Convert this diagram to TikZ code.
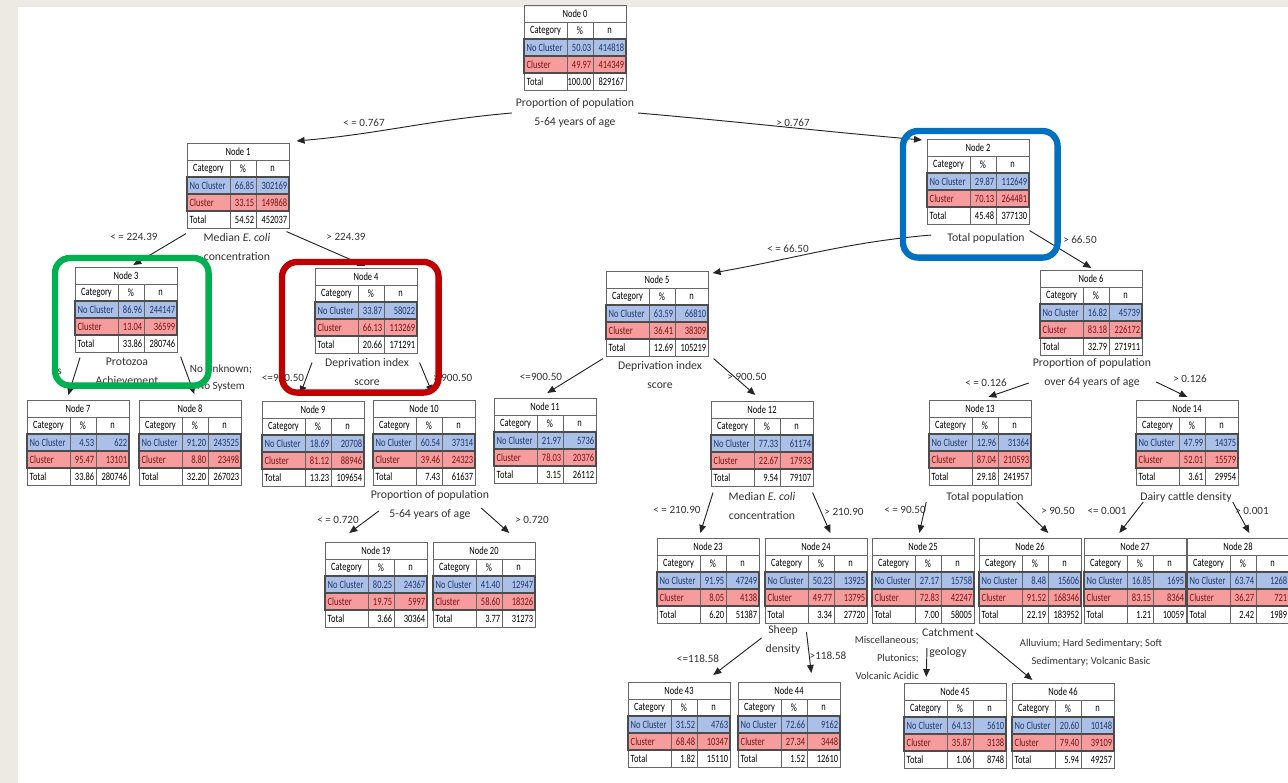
\documentclass[tikz,border=0pt]{standalone}
\usepackage{fontspec}
\setmainfont{Carlito}
\newfontfamily\cellfont[FakeStretch=0.76]{Carlito}
\usepackage{tikz}
\usetikzlibrary{arrows.meta,calc}
\definecolor{pagebg}{RGB}{237,234,228}
\definecolor{ncblue}{RGB}{170,192,230}
\definecolor{cred}{RGB}{246,156,156}
\definecolor{ncink}{RGB}{31,56,110}
\definecolor{cink}{RGB}{120,20,20}
\definecolor{frgreen}{RGB}{0,176,80}
\definecolor{frred}{RGB}{192,0,0}
\definecolor{frblue}{RGB}{0,112,192}
\tikzset{
  tabbox/.style={draw=gray!80!black, line width=0.5pt, minimum width=30.6mm, minimum height=25.5mm, inner sep=0pt},
  tabline/.style={draw=gray!80!black, line width=0.4pt},
  rowline/.style={draw=black!70, line width=0.9pt},
  celltxt/.style={inner sep=0pt, font=\cellfont\fontsize{9.5}{10}\selectfont},
  splitlab/.style={align=center, text=black!80, font=\fontsize{10}{16.2}\selectfont},
  elab/.style={text=black!80, inner sep=0pt, font=\fontsize{9.5}{14.5}\selectfont},
  splitarrow/.style={draw=black!85, line width=0.8pt, -{Triangle[length=2.4mm,width=2mm]}},
  hiframe/.style={line width=1.9mm, rounded corners=4.5mm},
}
% one table of the tree: left, top, node number, then the five values
\newcommand{\tabnode}[9]{%
  \begin{scope}[shift={(#1,#2)}]
    \fill[ncblue] (0,34) rectangle (102,51);
    \fill[cred] (0,51) rectangle (102,68);
    \node[tabbox, anchor=north west] (t#3) at (0,0) {};
    \draw[tabline] (0,17) -- (102,17) (0,34) -- (102,34) (0,68) -- (102,68);
    \draw[tabline] (43,17) -- (43,85) (69,17) -- (69,85);
    \draw[rowline] (0,34) rectangle (102,51) (0,51) rectangle (102,68);
    \node[celltxt] at (51,8.5) {Node #3};
    \node[celltxt] at (21.5,25.5) {Category};
    \node[celltxt] at (56,25.5) {\%};
    \node[celltxt] at (85.5,25.5) {n};
    \node[celltxt, anchor=west, text=ncink] at (2.5,42.5) {No Cluster};
    \node[celltxt, anchor=east, text=ncink] at (67.5,42.5) {#4};
    \node[celltxt, anchor=east, text=ncink] at (100.5,42.5) {#5};
    \node[celltxt, anchor=west, text=cink] at (2.5,59.5) {Cluster};
    \node[celltxt, anchor=east, text=cink] at (67.5,59.5) {#6};
    \node[celltxt, anchor=east, text=cink] at (100.5,59.5) {#7};
    \node[celltxt, anchor=west] at (2.5,76.5) {Total};
    \node[celltxt, anchor=east] at (67.5,76.5) {#8};
    \node[celltxt, anchor=east] at (100.5,76.5) {#9};
  \end{scope}%
}

\begin{document}
\begin{tikzpicture}[x=0.3mm,y=-0.3mm]
    \useasboundingbox (0,0) rectangle (1288,783);
    \fill[pagebg] (0,0) rectangle (1288,783);
    \fill[white] (18,7) rectangle (1288,783);

    % tables
    \tabnode{524}{5}{0}{50.03}{414818}{49.97}{414349}{100.00}{829167}
    \tabnode{187}{143}{1}{66.85}{302169}{33.15}{149868}{54.52}{452037}
    \tabnode{927}{139}{2}{29.87}{112649}{70.13}{264481}{45.48}{377130}
    \tabnode{75}{267}{3}{86.96}{244147}{13.04}{36599}{33.86}{280746}
    \tabnode{315}{268}{4}{33.87}{58022}{66.13}{113269}{20.66}{171291}
    \tabnode{606}{271}{5}{63.59}{66810}{36.41}{38309}{12.69}{105219}
    \tabnode{1040}{270}{6}{16.82}{45739}{83.18}{226172}{32.79}{271911}
    \tabnode{27}{400}{7}{4.53}{622}{95.47}{13101}{33.86}{280746}
    \tabnode{139}{400}{8}{91.20}{243525}{8.80}{23498}{32.20}{267023}
    \tabnode{262}{401}{9}{18.69}{20708}{81.12}{88946}{13.23}{109654}
    \tabnode{373}{400}{10}{60.54}{37314}{39.46}{24323}{7.43}{61637}
    \tabnode{494}{398}{11}{21.97}{5736}{78.03}{20376}{3.15}{26112}
    \tabnode{711}{401}{12}{77.33}{61174}{22.67}{17933}{9.54}{79107}
    \tabnode{929}{400}{13}{12.96}{31364}{87.04}{210593}{29.18}{241957}
    \tabnode{1136}{400}{14}{47.99}{14375}{52.01}{15579}{3.61}{29954}
    \tabnode{325}{542}{19}{80.25}{24367}{19.75}{5997}{3.66}{30364}
    \tabnode{433}{542}{20}{41.40}{12947}{58.60}{18326}{3.77}{31273}
    \tabnode{657}{538}{23}{91.95}{47249}{8.05}{4138}{6.20}{51387}
    \tabnode{765}{538}{24}{50.23}{13925}{49.77}{13795}{3.34}{27720}
    \tabnode{872}{538}{25}{27.17}{15758}{72.83}{42247}{7.00}{58005}
    \tabnode{979}{538}{26}{8.48}{15606}{91.52}{168346}{22.19}{183952}
    \tabnode{1084}{538}{27}{16.85}{1695}{83.15}{8364}{1.21}{10059}
    \tabnode{1187}{538}{28}{63.74}{1268}{36.27}{721}{2.42}{1989}
    \tabnode{628}{682}{43}{31.52}{4763}{68.48}{10347}{1.82}{15110}
    \tabnode{738}{682}{44}{72.66}{9162}{27.34}{3448}{1.52}{12610}
    \tabnode{904}{683}{45}{64.13}{5610}{35.87}{3138}{1.06}{8748}
    \tabnode{1012}{683}{46}{20.60}{10148}{79.40}{39109}{5.94}{49257}

    % split variables
    \node[splitlab] (l0) at (575,113) {Proportion of population\\5-64 years of age};
    \node[splitlab] (l1) at (237,247) {Median \textit{E. coli}\\concentration};
    \node[splitlab] (l2) at (986,238) {Total population};
    \node[splitlab] (l3) at (127,371) {Protozoa\\Achievement};
    \node[splitlab] (l4) at (367,372) {Deprivation index\\score};
    \node[splitlab] (l5) at (660,375) {Deprivation index\\score};
    \node[splitlab] (l6) at (1092,373) {Proportion of population\\over 64 years of age};
    \node[splitlab] (l10) at (430,505) {Proportion of population\\5-64 years of age};
    \node[splitlab] (l12) at (762,506) {Median \textit{E. coli}\\concentration};
    \node[splitlab] (l13) at (985,497) {Total population};
    \node[splitlab] (l14) at (1186,497) {Dairy cattle density};
    \node[splitlab] (l24) at (783,640) {Sheep\\density};
    \node[splitlab] (l25) at (948,643) {Catchment\\geology};

    % branch conditions
    \node[elab] at (364,123) {< = 0.767};
    \node[elab] at (793,123) {> 0.767};
    \node[elab] at (134,237) {< = 224.39};
    \node[elab] at (346,237) {> 224.39};
    \node[elab] at (788,249) {< = 66.50};
    \node[elab] at (1080,240) {> 66.50};
    \node[elab, anchor=east] at (62,372) {rs};
    \node[elab, align=center] at (221,378) {No Unknown;\\No System};
    \node[elab] at (283,378) {<=900.50};
    \node[elab, anchor=west] at (433,378) {> 900.50};
    \node[elab] at (541,377) {<=900.50};
    \node[elab] at (747,377) {> 900.50};
    \node[elab] at (986,383) {< = 0.126};
    \node[elab] at (1190,379) {> 0.126};
    \node[elab] at (338,520) {< = 0.720};
    \node[elab] at (532,520) {> 0.720};
    \node[elab] at (677,510) {< = 210.90};
    \node[elab] at (844,512) {> 210.90};
    \node[elab] at (905,510) {< = 90.50};
    \node[elab] at (1058,511) {> 90.50};
    \node[elab] at (1107,511) {<= 0.001};
    \node[elab] at (1252,511) {> 0.001};
    \node[elab] at (698,659) {<=118.58};
    \node[elab] at (828,656) {>118.58};
    \node[elab, anchor=east, align=right, font=\fontsize{9}{15.3}\selectfont] at (919,658) {Miscellaneous;\\Plutonics;\\Volcanic Acidic};
    \node[elab, align=center, font=\fontsize{9}{15.3}\selectfont] at (1091,653) {Alluvium; Hard Sedimentary; Soft\\Sedimentary; Volcanic Basic};

    % branches
    \draw[splitarrow] (l0.west) to[out=185,in=5] ($(t1.north east)+(7,-2)$);
    \draw[splitarrow] (l0.east) to[out=-5,in=175] ($(t2.north west)+(-5,1)$);
    \draw[splitarrow] ($(t1.south west)+(-1,5)$) -- ($(t3.north)+(7,-2)$);
    \draw[splitarrow] ($(t1.south east)+(-3,3)$) -- ($(t4.north)+(-1,-2)$);
    \draw[splitarrow] ($(l2.west)+(-12,-3)$) to[out=185,in=10] ($(t5.north east)+(4,2)$);
    \draw[splitarrow] ($(t2.south east)+(0,6)$) -- ($(t6.north)+(0,-2)$);
    \draw[splitarrow] ($(t3.south west)+(5,5)$) -- ($(t7.north)+(-10,-5)$);
    \draw[splitarrow] ($(t3.south east)+(3,4)$) -- ($(t8.north)+(4,-6)$);
    \draw[splitarrow] ($(t4.south west)+(-3,9)$) -- ($(t9.north)+(-13,-7)$);
    \draw[splitarrow] ($(t4.south east)+(2,9)$) -- ($(t10.north)+(8,-7)$);
    \draw[splitarrow] ($(t5.south west)+(-3,2)$) -- ($(t11.north)+(2,-5)$);
    \draw[splitarrow] ($(t5.south east)+(5,2)$) -- ($(t12.north)+(-7,-6)$);
    \draw[splitarrow] ($(l6.west)+(0,10)$) -- ($(t13.north)+(8,-3)$);
    \draw[splitarrow] ($(l6.east)+(1,9)$) -- ($(t14.north)+(0,-3)$);
    \draw[splitarrow] ($(l10.west)+(12,6)$) -- ($(t19.north)+(-27,-9)$);
    \draw[splitarrow] ($(l10.east)+(-12,3)$) -- ($(t20.north)+(25,-9)$);
    \draw[splitarrow] ($(t12.south west)+(2,6)$) -- ($(t23.north)+(-8,-5)$);
    \draw[splitarrow] ($(t12.south east)+(-1,6)$) -- ($(t24.north)+(14,-5)$);
    \draw[splitarrow] ($(l13.west)+(-16,5)$) -- ($(t25.north)+(-4,-5)$);
    \draw[splitarrow] ($(l13.east)+(-11,5)$) -- ($(t26.north)+(18,-5)$);
    \draw[splitarrow] ($(l14.west)+(7,5)$) -- ($(t27.north)+(-16,-5)$);
    \draw[splitarrow] ($(l14.east)+(-3,5)$) -- ($(t28.north)+(11,-5)$);
    \draw[splitarrow] ($(l24.west)+(0,-2)$) -- ($(t43.north)+(34,-7)$);
    \draw[splitarrow] ($(l24.east)+(2,-8)$) -- ($(t44.north)+(22,-9)$);
    \draw[splitarrow] ($(l25.west)+(9,5)$) -- ($(t45.north)+(-29,-6)$);
    \draw[splitarrow] ($(l25.east)+(-2,-10)$) -- ($(t46.north)+(-31,-3)$);

    % highlight frames
    \draw[hiframe, frgreen] ($(t3.north west)+(-20,-9)$) rectangle ($(t3.south east)+(31,33)$);
    \draw[hiframe, frred] ($(t4.north west)+(-33,-6)$) rectangle ($(t4.south east)+(21,39)$);
    \draw[hiframe, frblue] ($(t2.north west)+(-24,-8)$) rectangle ($(t2.south east)+(28,33)$);
\end{tikzpicture}
\end{document}
